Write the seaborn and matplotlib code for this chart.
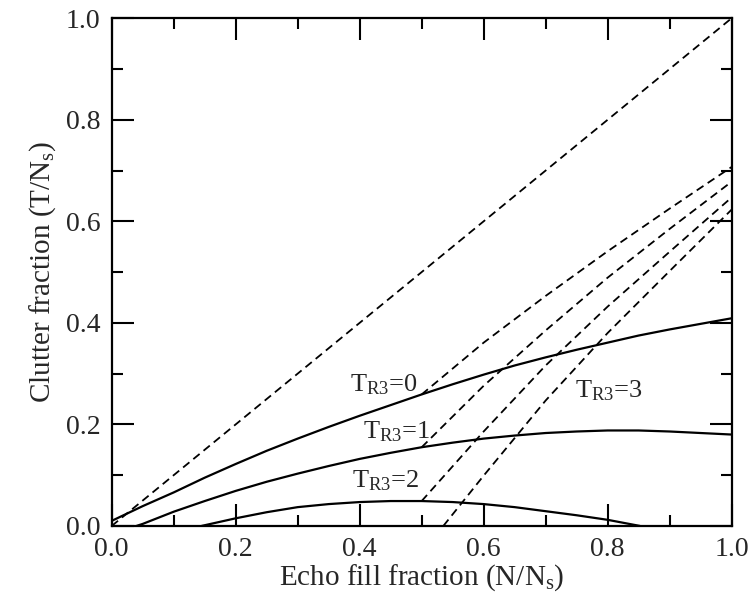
import numpy as np
import pandas as pd
import matplotlib
matplotlib.use("Agg")
import matplotlib.pyplot as plt
import seaborn as sns

# ===== Данные =====

# прямая y = x
diag_x = [0.0, 1.0]
diag_y = [0.0, 1.0]

# сплошные кривые T_R3 = 0, 1, 2
t0_x = [0.0, 0.05, 0.1, 0.15, 0.2, 0.25, 0.3, 0.35, 0.4, 0.45, 0.5,
        0.55, 0.6, 0.65, 0.7, 0.75, 0.8, 0.85, 0.9, 0.95, 1.0]
t0_y = [0.010, 0.039, 0.066, 0.095, 0.122, 0.148, 0.172, 0.195, 0.217, 0.238, 0.259,
        0.279, 0.298, 0.316, 0.332, 0.347, 0.361, 0.375, 0.387, 0.398, 0.409]

t1_x = [0.04, 0.05, 0.1, 0.15, 0.2, 0.25, 0.3, 0.35, 0.4, 0.45, 0.5,
        0.55, 0.6, 0.65, 0.7, 0.75, 0.8, 0.85, 0.9, 0.95, 1.0]
t1_y = [0.0, 0.004, 0.028, 0.049, 0.069, 0.087, 0.103, 0.118, 0.132, 0.144, 0.155,
        0.164, 0.172, 0.178, 0.183, 0.186, 0.188, 0.188, 0.186, 0.183, 0.180]

t2_x = [0.145, 0.2, 0.25, 0.3, 0.35, 0.4, 0.45, 0.5, 0.55, 0.6, 0.65, 0.7, 0.75, 0.8, 0.852]
t2_y = [0.0, 0.015, 0.027, 0.037, 0.043, 0.047, 0.049, 0.049, 0.047, 0.043, 0.037, 0.029,
        0.021, 0.012, 0.0]

# штриховые кривые
d1_x = [0.5, 0.6, 0.7, 0.8, 0.9, 1.0]
d1_y = [0.259, 0.361, 0.453, 0.541, 0.625, 0.707]

d2_x = [0.5, 0.6, 0.7, 0.8, 0.9, 1.0]
d2_y = [0.155, 0.276, 0.385, 0.489, 0.585, 0.678]

d3_x = [0.5, 0.6, 0.7, 0.8, 0.9, 1.0]
d3_y = [0.049, 0.186, 0.316, 0.432, 0.540, 0.647]

d4_x = [0.535, 0.6, 0.7, 0.8, 0.9, 1.0]
d4_y = [0.0, 0.099, 0.247, 0.380, 0.502, 0.623]

ticks = [0.0, 0.2, 0.4, 0.6, 0.8, 1.0]
tick_labels = ["0.0", "0.2", "0.4", "0.6", "0.8", "1.0"]

labels = ["T$_\\mathrm{R3}$=0", "T$_\\mathrm{R3}$=1", "T$_\\mathrm{R3}$=2", "T$_\\mathrm{R3}$=3"]
label_x = [0.385, 0.405, 0.388, 0.747]
label_y = [0.265, 0.173, 0.075, 0.254]

# ===== Оформление =====
sns.set_theme(style="ticks")
plt.rcParams["font.family"] = ["Liberation Serif", "DejaVu Serif"]
plt.rcParams["mathtext.fontset"] = "custom"
plt.rcParams["mathtext.rm"] = "Liberation Serif"
plt.rcParams["mathtext.it"] = "Liberation Serif:italic"

fig = plt.figure(figsize=(7.55, 6.08), dpi=100)
ax = fig.add_axes([0.148, 0.135, 0.821, 0.835])

dash = (0, (4.5, 2.8))
sns.lineplot(x=diag_x, y=diag_y, ax=ax, color="black", lw=1.3, linestyle=dash)
for xs, ys in [(d1_x, d1_y), (d2_x, d2_y), (d3_x, d3_y), (d4_x, d4_y)]:
    sns.lineplot(x=xs, y=ys, ax=ax, color="black", lw=1.3, linestyle=dash)

for xs, ys in [(t0_x, t0_y), (t1_x, t1_y), (t2_x, t2_y)]:
    sns.lineplot(x=xs, y=ys, ax=ax, color="black", lw=1.6)

for txt, lx, ly in zip(labels, label_x, label_y):
    ax.text(lx, ly, txt, fontsize=19, va="baseline", ha="left")

ax.set_xlim(0, 1)
ax.set_ylim(0, 1)
ax.set_xticks(ticks)
ax.set_xticklabels(tick_labels)
ax.set_yticks(ticks)
ax.set_yticklabels(tick_labels)
ax.set_xticks(np.arange(0.1, 1.0, 0.2), minor=True)
ax.set_yticks(np.arange(0.1, 1.0, 0.2), minor=True)

ax.tick_params(which="both", direction="in", top=True, right=True,
               width=1.5, color="black", labelsize=20)
ax.tick_params(which="major", length=16, pad=8)
ax.tick_params(which="minor", length=8)
for s in ax.spines.values():
    s.set_linewidth(1.6)
    s.set_color("black")

ax.set_xlabel("Echo fill fraction (N/N$_\\mathrm{s}$)", fontsize=21, labelpad=0)
ax.set_ylabel("Clutter fraction (T/N$_\\mathrm{s}$)", fontsize=21, labelpad=6)

fig.savefig("out.png", dpi=100)
